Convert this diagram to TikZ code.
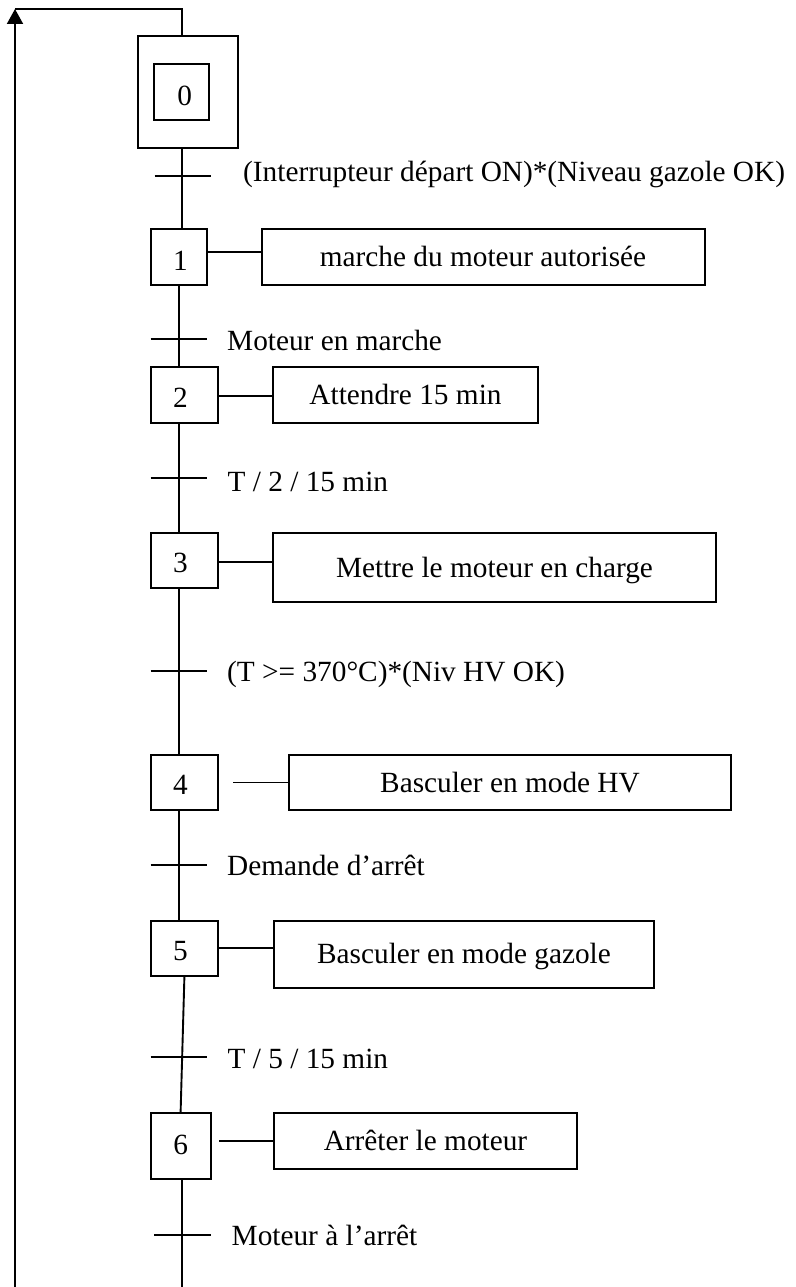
\documentclass[tikz,border=0pt]{standalone}
\usepackage{fontspec}
\setmainfont{Liberation Serif}
\usetikzlibrary{arrows.meta}
\tikzset{
  stepbox/.style={draw, rectangle, inner sep=0pt, line width=2pt},
  num/.style={inner sep=0pt, text height=19.5pt, text depth=0pt},
  actbox/.style={draw, rectangle, inner sep=0pt, line width=2pt, text height=19.5pt, text depth=0pt},
  lbl/.style={anchor=base west, inner sep=0pt},
  flow/.style={line width=1.9pt},
}
\begin{document}
\begin{tikzpicture}[x=1pt, y=-1pt, font=\fontsize{29.3}{35}\selectfont]
\useasboundingbox (0,0) rectangle (795,1287);

% ---- steps ----
\node[stepbox, minimum width=100pt, minimum height=112pt] (s0o) at (188,92) {};
\node[stepbox, minimum width=55.3pt, minimum height=56pt,
      label={[num, xshift=3pt, yshift=-4pt]center:0}] (s0) at (181.7,92) {};
\node[stepbox, minimum width=56.5pt, minimum height=56pt,
      label={[num, xshift=1.75pt, yshift=-4pt]center:1}] (s1) at (178.75,257) {};
\node[stepbox, minimum width=67.7pt, minimum height=55.5pt,
      label={[num, xshift=-3.9pt, yshift=-2.3pt]center:2}] (s2) at (184.4,395.2) {};
\node[stepbox, minimum width=67.7pt, minimum height=55pt,
      label={[num, xshift=-3.9pt, yshift=-2.5pt]center:3}] (s3) at (184.4,560.5) {};
\node[stepbox, minimum width=67.7pt, minimum height=55pt,
      label={[num, xshift=-3.9pt, yshift=-2pt]center:4}] (s4) at (184.4,782.5) {};
\node[stepbox, minimum width=67.7pt, minimum height=55pt,
      label={[num, xshift=-3.9pt, yshift=-2.8pt]center:5}] (s5) at (184.4,948.2) {};
\node[stepbox, minimum width=60.2pt, minimum height=65.5pt,
      label={[num, yshift=1.7pt]center:6}] (s6) at (180.6,1146.2) {};

% ---- actions ----
\node[actbox, minimum width=443pt, minimum height=56pt] (a1) at (483,257) {marche du moteur autorisée};
\node[actbox, minimum width=265pt, minimum height=55.5pt] (a2) at (405.5,395.2) {Attendre 15 min};
\node[actbox, minimum width=443pt, minimum height=69pt] (a3) at (494.5,567.5) {Mettre le moteur en charge};
\node[actbox, minimum width=442pt, minimum height=55pt] (a4) at (510,782.5) {Basculer en mode HV};
\node[actbox, minimum width=380pt, minimum height=67pt] (a5) at (464,954.2) {Basculer en mode gazole};
\node[actbox, minimum width=303pt, minimum height=55.5pt] (a6) at (425.5,1141.2) {Arrêter le moteur};

% ---- step/action links ----
\draw[flow] (s1.east |- 0,252.3) -- (a1.west |- 0,252.3);
\draw[flow] (s2.east |- 0,396) -- (a2.west |- 0,396);
\draw[flow] (s3.east |- 0,561.7) -- (a3.west |- 0,561.7);
\coordinate (c4) at (233,782.5);
\draw[flow] (c4) -- (a4.west |- c4);
\draw[flow] (s5.east |- 0,948) -- (a5.west |- 0,948);
\coordinate (c6) at (219,1141);
\draw[flow] (c6) -- (a6.west |- c6);

% ---- transitions (tick centres) ----
\coordinate (t0) at (182,175.7);
\coordinate (t1) at (178.7,339.3);
\coordinate (t2) at (178.7,478.3);
\coordinate (t3) at (178.7,671);
\coordinate (t4) at (178.7,865.3);
\coordinate (t5) at (182.2,1057);
\coordinate (t6) at (182.3,1235);

% ---- main flow ----
\draw[flow] (s0o.south -| t0) -- (s1.north -| t0);
\draw[flow] (s1.south -| t1) -- (s2.north -| t1);
\draw[flow] (s2.south -| t2) -- (s3.north -| t2);
\draw[flow] (s3.south -| t3) -- (s4.north -| t3);
\draw[flow] (s4.south -| t4) -- (s5.north -| t4);
\draw[flow] (s5.south) -- (s6.north);
\coordinate (bot) at (182.3,1287);
\draw[flow] (s6.south -| bot) -- (bot);

% ticks
\draw[flow] ([xshift=-27.4pt]t0) -- ([xshift=28.7pt]t0);
\draw[flow] ([xshift=-28pt]t1) -- ([xshift=28pt]t1);
\draw[flow] ([xshift=-28pt]t2) -- ([xshift=28pt]t2);
\draw[flow] ([xshift=-28pt]t3) -- ([xshift=28pt]t3);
\draw[flow] ([xshift=-28pt]t4) -- ([xshift=28pt]t4);
\draw[flow] ([xshift=-31.5pt]t5) -- ([xshift=24.5pt]t5);
\draw[flow] ([xshift=-28.3pt]t6) -- ([xshift=28.4pt]t6);

% ---- return loop ----
\coordinate (ret0) at (15,1287);
\coordinate (ret1) at (15,9);
\coordinate (ret2) at (182,9);
\draw[flow, -{Triangle[width=16pt,length=15pt]}] (ret0) -- (ret1);
\draw[flow] (ret1) -- (ret2) -- (s0o.north -| ret2);

% ---- transition labels ----
\node[lbl] (l0) at (243,181.7) {(Interrupteur départ ON)*(Niveau gazole OK)};
\node[lbl] (l1) at (227,350.7) {Moteur en marche};
\node[lbl] (l2) at (227.5,491.7) {T / 2 / 15 min};
\node[lbl] (l3) at (227,681.7) {(T >= 370°C)*(Niv HV OK)};
\node[lbl] (l4) at (227,875) {Demande d’arrêt};
\node[lbl] (l5) at (227.5,1068) {T / 5 / 15 min};
\node[lbl] (l6) at (231.5,1245) {Moteur à l’arrêt};
\end{tikzpicture}
\end{document}
